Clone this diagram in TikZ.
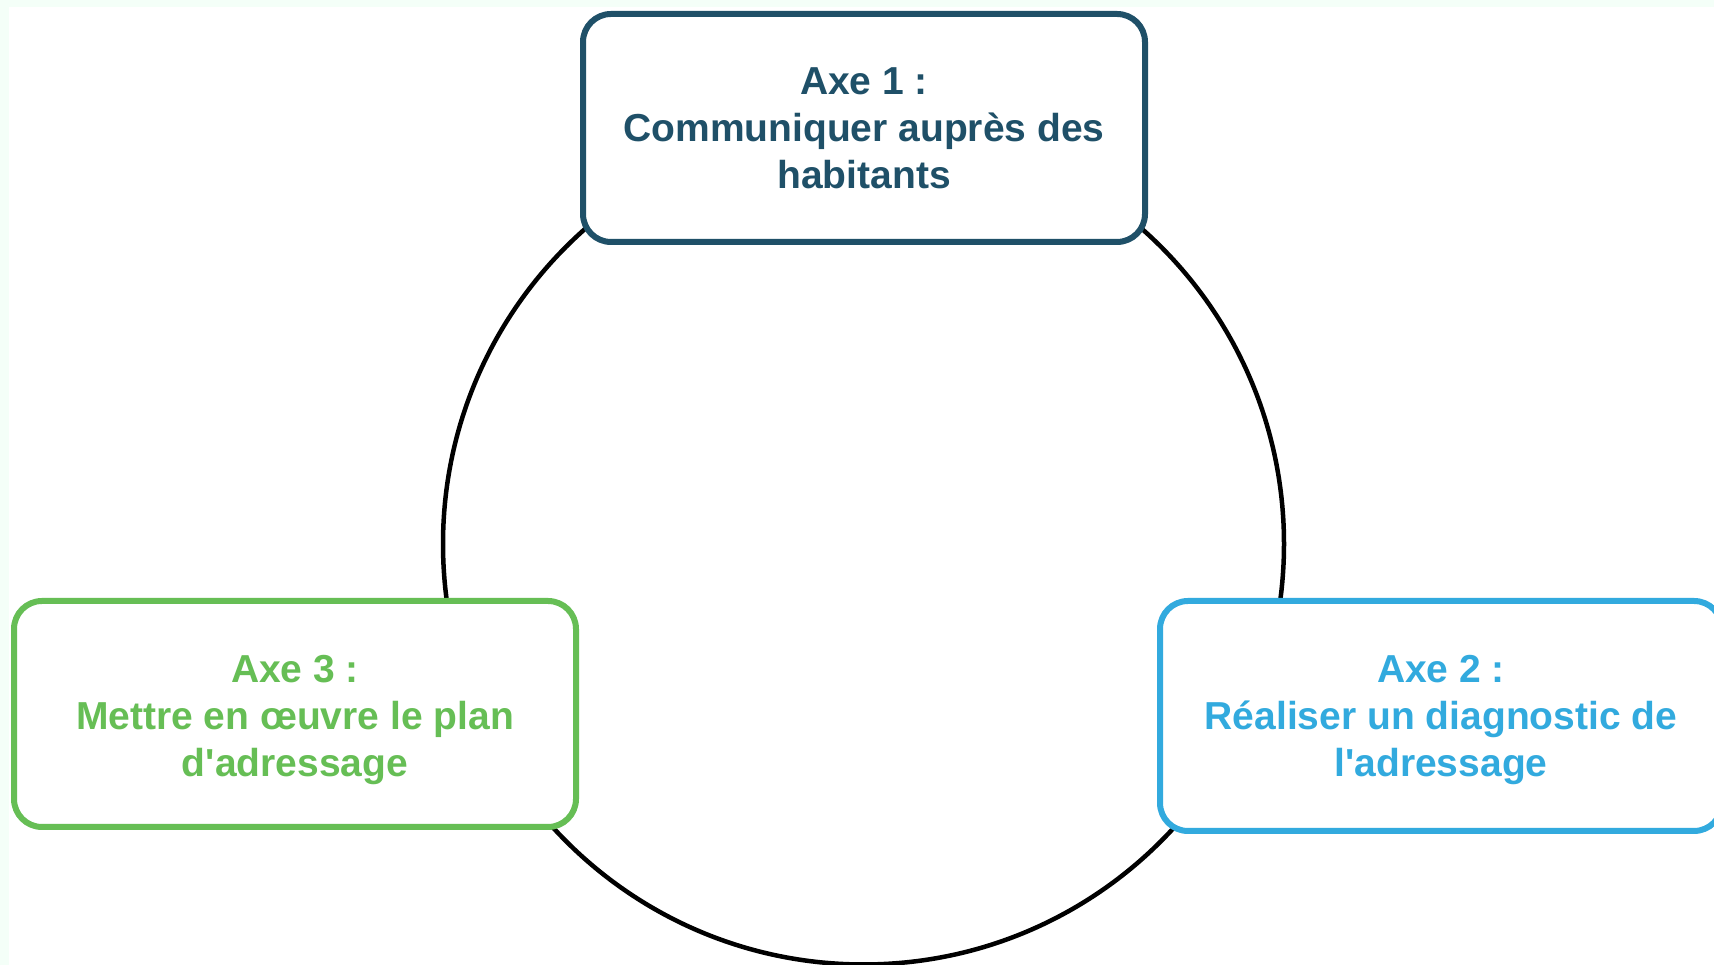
\documentclass[tikz,border=0pt]{standalone}
\usepackage{fontspec}
\setmainfont{Liberation Sans}
\definecolor{mint}{HTML}{F4FFF8}
\definecolor{axeA}{HTML}{1F5068}
\definecolor{axeB}{HTML}{32AADE}
\definecolor{axeC}{HTML}{66BE55}
\tikzset{
  axebox/.style={rectangle, rounded corners=28pt, fill=white, line width=6pt,
    align=center, inner sep=0pt, minimum width=562pt,
    font=\fontsize{39}{47}\selectfont\bfseries},
  ringstyle/.style={circle, draw=black, line width=4.5pt, inner sep=0pt, minimum size=841pt}
}
\begin{document}
\begin{tikzpicture}[x=1pt,y=1pt]
\fill[mint] (0,0) rectangle (1714,965);
\fill[white] (9,0) rectangle (1714,958);
\useasboundingbox (0,0) rectangle (1714,965);
\node[ringstyle] (ring) at (863.5,421) {};
\node[axebox, draw=axeA, text=axeA, minimum height=228pt] (axe1) at (864,837) {Axe 1 :\\Communiquer auprès des\\habitants};
\node[axebox, draw=axeC, text=axeC, minimum height=226pt] (axe3) at (295,251) {\rule{0pt}{40pt}Axe 3 :\\Mettre en œuvre le plan\\d\textquotesingle adressage};
\node[axebox, draw=axeB, text=axeB, minimum height=230pt] (axe2) at (1441,249) {\rule{0pt}{35pt}Axe 2 :\\Réaliser un diagnostic de\\l\textquotesingle adressage};
\end{tikzpicture}
\end{document}
